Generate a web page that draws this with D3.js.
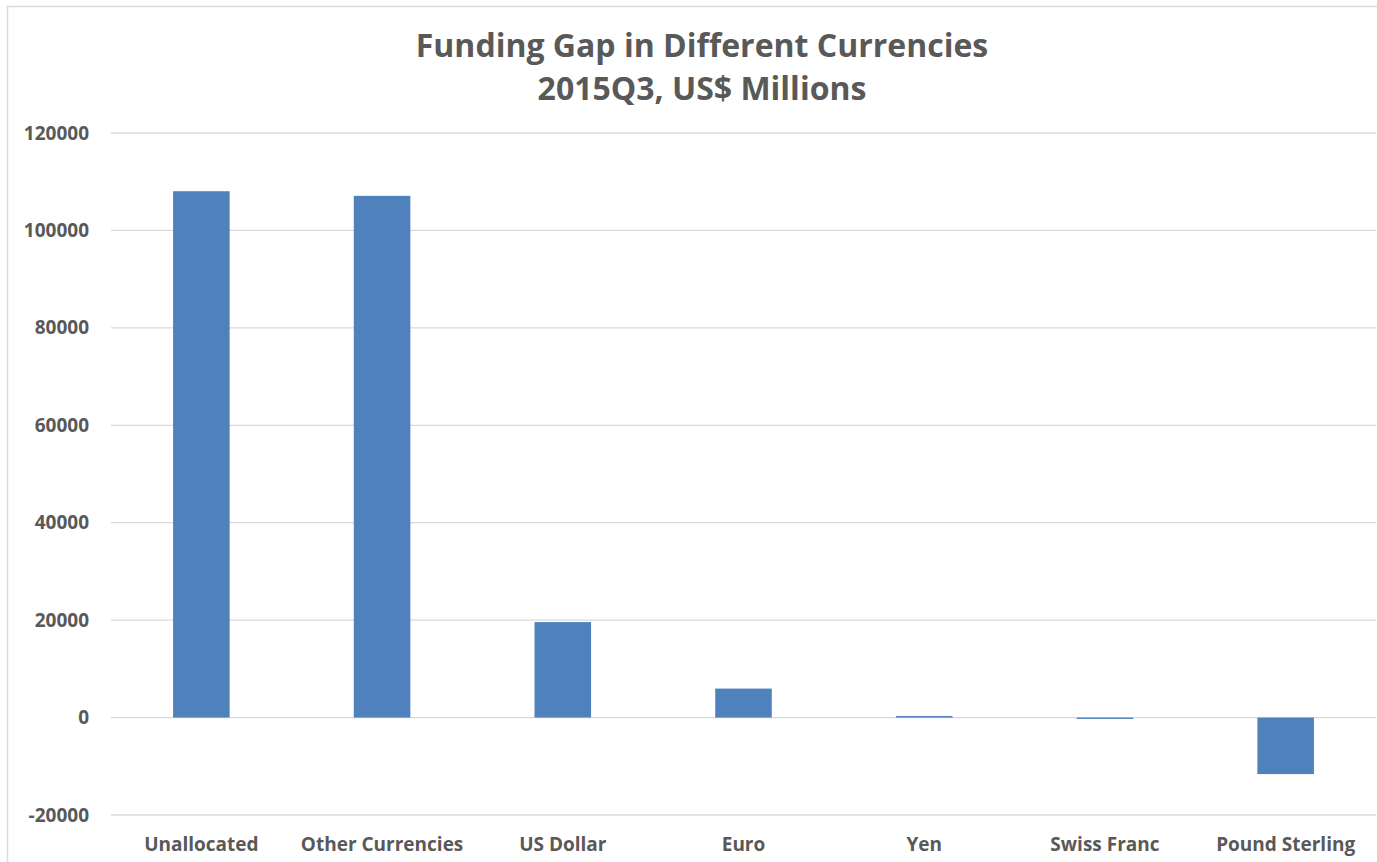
<!DOCTYPE html>
<html>
<head>
<meta charset="utf-8">
<script src="https://cdn.jsdelivr.net/npm/d3@7"></script>
<style>
  html, body { margin: 0; padding: 0; background: #fff; }
  svg { display: block; }
  text { font-family: "Open Sans", Lato, sans-serif; font-weight: bold; fill: #595959; }
</style>
</head>
<body>
<svg id="chart" width="1377" height="862"></svg>
<script>
// Funding gap by currency, 2015Q3 (US$ millions)
const categories = ["Unallocated", "Other Currencies", "US Dollar", "Euro", "Yen", "Swiss Franc", "Pound Sterling"];
const values = [108050, 107100, 19600, 5950, 330, -280, -11600];
const yTicks = [-20000, 0, 20000, 40000, 60000, 80000, 100000, 120000];
const titleLines = ["Funding Gap in Different Currencies", "2015Q3, US$ Millions"];

const W = 1377, H = 862;
const plot = { left: 111, right: 1376, top: 133, bottom: 815 };
const FONT = "'Open Sans', Lato, sans-serif";

const svg = d3.select("#chart");

// chart frame (left and top edges visible)
svg.append("path")
  .attr("d", `M7.5,${H} V6.5 H${W}`)
  .attr("fill", "none")
  .attr("stroke", "#d9d9d9")
  .attr("stroke-width", 1.5);

const x = d3.scaleBand()
  .domain(categories)
  .range([plot.left, plot.right])
  .paddingInner(0.687)
  .paddingOuter(0.3435);

const y = d3.scaleLinear()
  .domain([-20000, 120000])
  .range([plot.bottom, plot.top]);

// horizontal gridlines
svg.append("g")
  .selectAll("line")
  .data(yTicks)
  .join("line")
  .attr("x1", plot.left)
  .attr("x2", plot.right)
  .attr("y1", d => y(d))
  .attr("y2", d => y(d))
  .attr("stroke", "#d9d9d9")
  .attr("stroke-width", 1.3);

// y axis labels (plain hyphen for negatives)
const yAxis = d3.axisLeft(y)
  .tickValues(yTicks)
  .tickSize(0)
  .tickPadding(0)
  .tickFormat(d => String(d));
const gy = svg.append("g")
  .attr("transform", `translate(89,0)`)
  .call(yAxis);
gy.select(".domain").remove();
gy.selectAll("text")
  .attr("font-size", 19)
  .attr("fill", "#595959")
  .style("font-family", FONT)
  .style("font-weight", "bold");

// bars
svg.append("g")
  .selectAll("rect")
  .data(categories.map((c, i) => ({ c, v: values[i] })))
  .join("rect")
  .attr("x", d => x(d.c))
  .attr("width", x.bandwidth())
  .attr("y", d => y(Math.max(0, d.v)))
  .attr("height", d => Math.abs(y(d.v) - y(0)))
  .attr("fill", "#4f81bd");

// category labels
const xAxis = d3.axisBottom(x).tickSize(0).tickPadding(0);
const gx = svg.append("g")
  .attr("transform", `translate(0,837)`)
  .call(xAxis);
gx.select(".domain").remove();
gx.selectAll("text")
  .attr("font-size", 19)
  .attr("fill", "#595959")
  .style("font-family", FONT)
  .style("font-weight", "bold");

// title
svg.append("g")
  .selectAll("text")
  .data(titleLines)
  .join("text")
  .attr("x", 702)
  .attr("y", (d, i) => 57 + i * 43)
  .attr("text-anchor", "middle")
  .attr("font-size", 32)
  .text(d => d);
</script>
</body>
</html>
